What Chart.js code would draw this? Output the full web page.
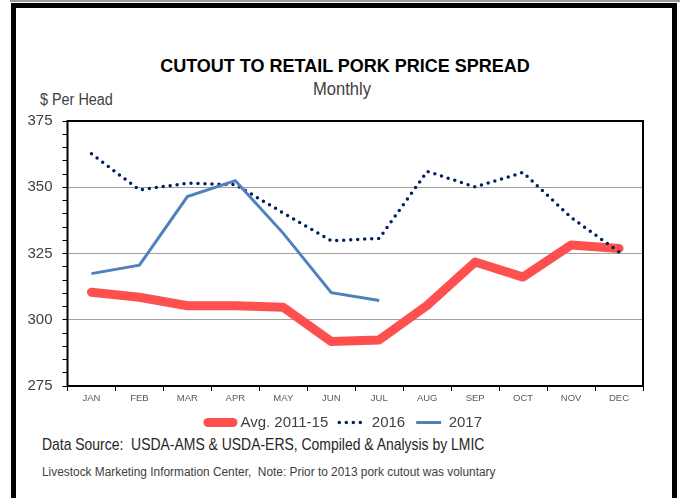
<!DOCTYPE html>
<html>
<head>
    <title>Cutout to Retail Pork Price Spread</title>
    <style>
        body {
            margin: 0;
            width: 680px;
            height: 498px;
            overflow: hidden;
            background: #fff;
            position: relative;
            font-family: "Liberation Sans", Arial, sans-serif;
        }
        #topline {
            position: absolute; left: 10px; top: 0; width: 670px; height: 2px; background: #999;
        }
        #frame {
            position: absolute; left: 11px; top: 3px; width: 656px; height: 520px;
            border: 5px solid #000;
        }
        .txt { position: absolute; white-space: nowrap; color: #000; transform-origin: 0 0; }
        #title { left: 0; width: 690px; text-align: center; top: 56px; font-weight: bold; font-size: 18px; }
        #subtitle { left: 313px; top: 79px; font-size: 18px; color: #404040; transform: scaleX(0.92); }
        #unit { left: 40px; top: 91px; font-size: 16px; color: #404040; transform: scaleX(0.9); }
        #source { left: 42px; top: 435px; font-size: 17px; color: #262626; transform: scaleX(0.82); }
        #note { left: 42px; top: 465px; font-size: 12.5px; color: #404040; transform: scaleX(0.95); }
        #chart-container { position: absolute; left: 0; top: 0; width: 680px; height: 498px; }
    </style>
</head>
<body>
    <script src="https://cdn.jsdelivr.net/npm/chart.js@4/dist/chart.umd.min.js"></script>
    <div id="topline"></div>
    <div id="frame"></div>
    <div class="txt" id="title">CUTOUT TO RETAIL PORK PRICE SPREAD</div>
    <div class="txt" id="subtitle">Monthly</div>
    <div class="txt" id="unit">$ Per Head</div>
    <div class="txt" id="source">Data Source:&nbsp; USDA-AMS &amp; USDA-ERS, Compiled &amp; Analysis by LMIC</div>
    <div class="txt" id="note">Livestock Marketing Information Center,&nbsp; Note: Prior to 2013 pork cutout was voluntary</div>

    <div id="chart-container">
        <canvas id="spreadChart" width="680" height="498"></canvas>
    </div>

    <script>
        const months = ['JAN', 'FEB', 'MAR', 'APR', 'MAY', 'JUN', 'JUL', 'AUG', 'SEP', 'OCT', 'NOV', 'DEC'];
        const avg2011_15 = [310.4, 308.5, 305.3, 305.3, 304.7, 291.8, 292.4, 305.4, 321.8, 316.1, 328.2, 326.9];
        const y2016 = [362.6, 349.0, 351.5, 351.0, 340.3, 329.8, 330.7, 356.0, 350.1, 355.6, 338.6, 325.6];
        const y2017 = [317.4, 320.6, 346.5, 352.5, 332.6, 310.2, 307.3, null, null, null, null, null];
        const yMin = 275, yMax = 375, yMinor = 5, yMajor = 25;

        const font = '"Liberation Sans", Arial, sans-serif';

        // black box round the plot area
        const boxPlugin = {
            id: 'plotBox',
            afterDraw(chart) {
                const a = chart.chartArea, ctx = chart.ctx;
                ctx.save();
                ctx.strokeStyle = '#000';
                ctx.lineWidth = 2;
                ctx.strokeRect(a.left, a.top, a.right - a.left, a.bottom - a.top);
                ctx.restore();
            }
        };

        const styles = [
            { text: 'Avg. 2011-15', color: '#FF5050', width: 9, dash: [], cap: 'round' },
            { text: '2016', color: '#002060', width: 3.5, dash: [0, 7], cap: 'round' },
            { text: '2017', color: '#4F81BD', width: 3, dash: [], cap: 'butt' }
        ];

        new Chart('spreadChart', {
            type: 'line',
            data: {
                labels: months,
                datasets: [
                    { label: 'Avg. 2011-15', data: avg2011_15, borderColor: '#FF5050', borderWidth: 9,
                      borderCapStyle: 'round', borderJoinStyle: 'round', pointRadius: 0, order: 3 },
                    { label: '2016', data: y2016, borderColor: '#002060', borderWidth: 3.5,
                      borderDash: [0, 7], borderCapStyle: 'round', pointRadius: 0, order: 2 },
                    { label: '2017', data: y2017, borderColor: '#4F81BD', borderWidth: 3,
                      pointRadius: 0, order: 1 }
                ]
            },
            options: {
                responsive: false,
                animation: false,
                layout: { padding: { left: 10, right: 0, top: 121, bottom: 58 } },
                plugins: {
                    tooltip: { enabled: false },
                    legend: {
                        position: 'bottom',
                        labels: {
                            usePointStyle: true,
                            pointStyleWidth: 25,
                            padding: 11,
                            color: '#404040',
                            font: { family: font, size: 15 },
                            generateLabels: () => styles.map((s, i) => ({
                                text: s.text, datasetIndex: i, pointStyle: 'line',
                                strokeStyle: s.color, fillStyle: s.color, lineWidth: s.width,
                                lineDash: s.dash, lineCap: s.cap, fontColor: '#404040', hidden: false
                            }))
                        }
                    }
                },
                scales: {
                    x: {
                        offset: true,
                        grid: { drawOnChartArea: false, tickLength: 5, tickColor: '#000', offset: true },
                        border: { display: false },
                        ticks: { color: '#595959', padding: 2, maxRotation: 0, font: { family: font, size: 9.5 } },
                        afterFit(s) { s.height = 18; }
                    },
                    y: {
                        min: yMin, max: yMax,
                        border: { display: false },
                        grid: {
                            color: c => (c.tick && c.tick.value % yMajor === 0 && c.tick.value > yMin && c.tick.value < yMax) ? '#A0A0A0' : 'rgba(0,0,0,0)',
                            tickColor: '#000', tickLength: 5, lineWidth: 1
                        },
                        ticks: {
                            stepSize: yMinor, autoSkip: false, padding: 10, color: '#404040',
                            font: { family: font, size: 15 },
                            callback: v => v % yMajor === 0 ? v : ''
                        },
                        afterFit(s) { s.width = 57.5; }
                    },
                    yRight: {
                        position: 'right', display: true,
                        grid: { display: false }, border: { display: false },
                        ticks: { display: false },
                        afterFit(s) { s.width = 37; }
                    }
                }
            },
            plugins: [boxPlugin]
        });
    </script>
</body>
</html>
